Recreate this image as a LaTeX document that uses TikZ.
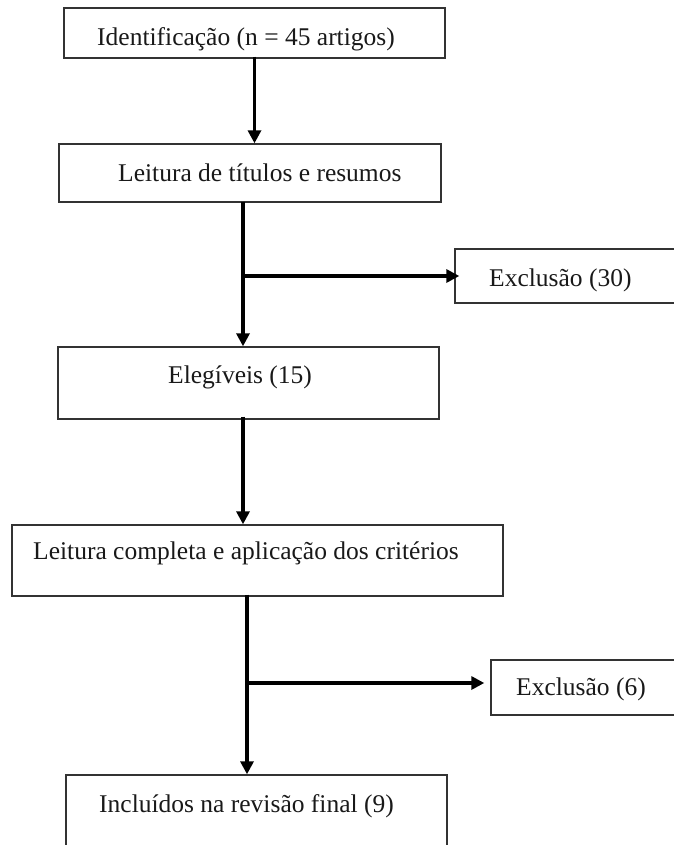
\documentclass[tikz,border=0pt]{standalone}
\usepackage{fontspec}
\setmainfont{Liberation Serif}
\usetikzlibrary{arrows.meta}
\begin{document}
\begin{tikzpicture}[x=1bp,y=-1bp,
  box/.style={draw=black!80,line width=1.4bp,rectangle,inner sep=0pt},
  txt/.style={anchor=base west,inner sep=0pt,text=black!90,font=\fontsize{25.5bp}{30bp}\selectfont},
  arr/.style={draw=black,line width=3.2bp,-{Triangle[length=13bp,width=13bp]}}]
\useasboundingbox (0,0) rectangle (674,845);
\fill[white] (0,0) rectangle (674,845);
% boxes
\node[box,minimum width=381bp,minimum height=50bp] (b1) at (254.5,33) {};
\node[box,minimum width=382bp,minimum height=58bp] (b2) at (250,173) {};
\node[box,minimum width=245bp,minimum height=54bp] (e1) at (577.5,276) {};
\node[box,minimum width=381bp,minimum height=72bp] (b3) at (248.5,383) {};
\node[box,minimum width=491bp,minimum height=71bp] (b4) at (257.5,560.5) {};
\node[box,minimum width=209bp,minimum height=55bp] (e2) at (595.5,687.5) {};
\node[box,minimum width=381bp,minimum height=95bp] (b5) at (256.5,822.5) {};
% texts
\node[txt] (t1) at (97,45) {Identificação (n = 45 artigos)};
\node[txt] (t2) at (118,181) {Leitura de títulos e resumos};
\node[txt] (t3) at (489,286) {Exclusão (30)};
\node[txt] (t4) at (168,383) {Elegíveis (15)};
\node[txt] (t5) at (33,559) {Leitura completa e aplicação dos critérios};
\node[txt] (t6) at (516,695) {Exclusão (6)};
\node[txt] (t7) at (99,812) {Incluídos na revisão final (9)};
% connectors
\coordinate (j1) at (243,276);
\coordinate (j2) at (247,683);
\draw[arr] ([yshift=2bp]b1.south) -- (b1.south |- b2.north);
\draw[arr] ([yshift=1bp]b2.south -| j1) -- (b3.north -| j1);
\draw[arr,shorten >=-5bp] (j1) -- (j1 -| e1.west);
\draw[arr] ([yshift=3bp]b3.south -| j1) -- (b4.north -| j1);
\draw[arr] ([yshift=2bp]b4.south -| j2) -- (b5.north -| j2);
\draw[arr,shorten >=6bp] (j2) -- (j2 -| e2.west);
\end{tikzpicture}
\end{document}
